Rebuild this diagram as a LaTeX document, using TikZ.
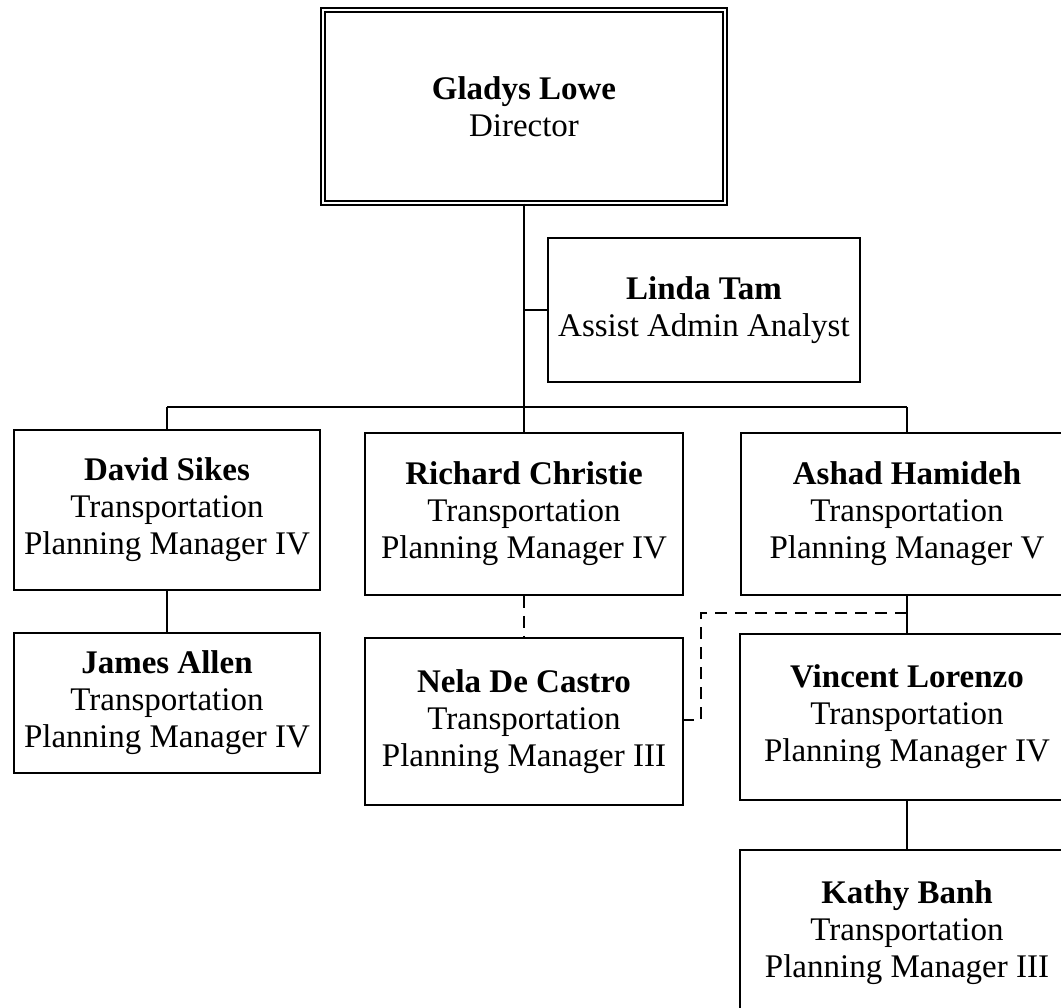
\documentclass[tikz,border=0pt]{standalone}
\usepackage{fontspec}
\setmainfont{Liberation Serif}
\begin{document}
\begin{tikzpicture}[x=1pt,y=-1pt,
  box/.style={draw, line width=1.6pt, rectangle, align=center, inner sep=0pt,
    font=\fontsize{33}{37}\selectfont},
  link/.style={line width=1.6pt},
  dlink/.style={line width=1.6pt, dash pattern=on 12pt off 8pt}]
\useasboundingbox (0,0) rectangle (1061,1008);
\clip (0,0) rectangle (1061,1008);
\node[box, double, line width=1.3pt, double distance=2.7pt, minimum width=402pt, minimum height=193pt] (gladys) at (524,106.5) {\textbf{Gladys Lowe}\\Director};
\node[box, minimum width=312pt, minimum height=144pt] (linda) at (704,310) {\textbf{Linda Tam}\\Assist Admin Analyst};
\node[box, minimum width=306pt, minimum height=160pt] (david) at (167,510) {\textbf{David Sikes}\\Transportation\\Planning Manager IV};
\node[box, minimum width=318pt, minimum height=162pt] (richard) at (524,514) {\textbf{Richard Christie}\\Transportation\\Planning Manager IV};
\node[box, minimum width=332pt, minimum height=162pt] (ashad) at (907,514) {\textbf{Ashad Hamideh}\\Transportation\\Planning Manager V};
\node[box, minimum width=306pt, minimum height=140pt] (james) at (167,703) {\textbf{James Allen}\\Transportation\\Planning Manager IV};
\node[box, minimum width=318pt, minimum height=167pt] (nela) at (524,721.5) {\textbf{Nela De Castro}\\Transportation\\Planning Manager III};
\node[box, minimum width=334pt, minimum height=166pt] (vincent) at (907,717) {\textbf{Vincent Lorenzo}\\Transportation\\Planning Manager IV};
\node[box, minimum width=334pt, minimum height=166pt] (kathy) at (907,933) {\textbf{Kathy Banh}\\Transportation\\Planning Manager III};
\coordinate (bar) at (524,407);
\coordinate (lj) at (524,310);
\coordinate (barL) at (167,407);
\coordinate (barR) at (907,407);
\coordinate (d1) at (907,613);
\coordinate (d2) at (701,613);
\coordinate (d3) at (701,720);
\draw[link] (gladys.south) -- (bar);
\draw[link] (lj) -- (linda.west);
\draw[link] (barL) -- (barR);
\draw[link] (barL) -- (david.north);
\draw[link] (bar) -- (richard.north);
\draw[link] (barR) -- (ashad.north);
\draw[link] (david.south) -- (james.north);
\draw[dlink] (richard.south) -- (nela.north);
\draw[link] (ashad.south) -- (vincent.north);
\draw[dlink] (d1) -- (d2) -- (d3) -- (nela.east |- d3);
\draw[link] (vincent.south) -- (kathy.north);
\end{tikzpicture}
\end{document}
